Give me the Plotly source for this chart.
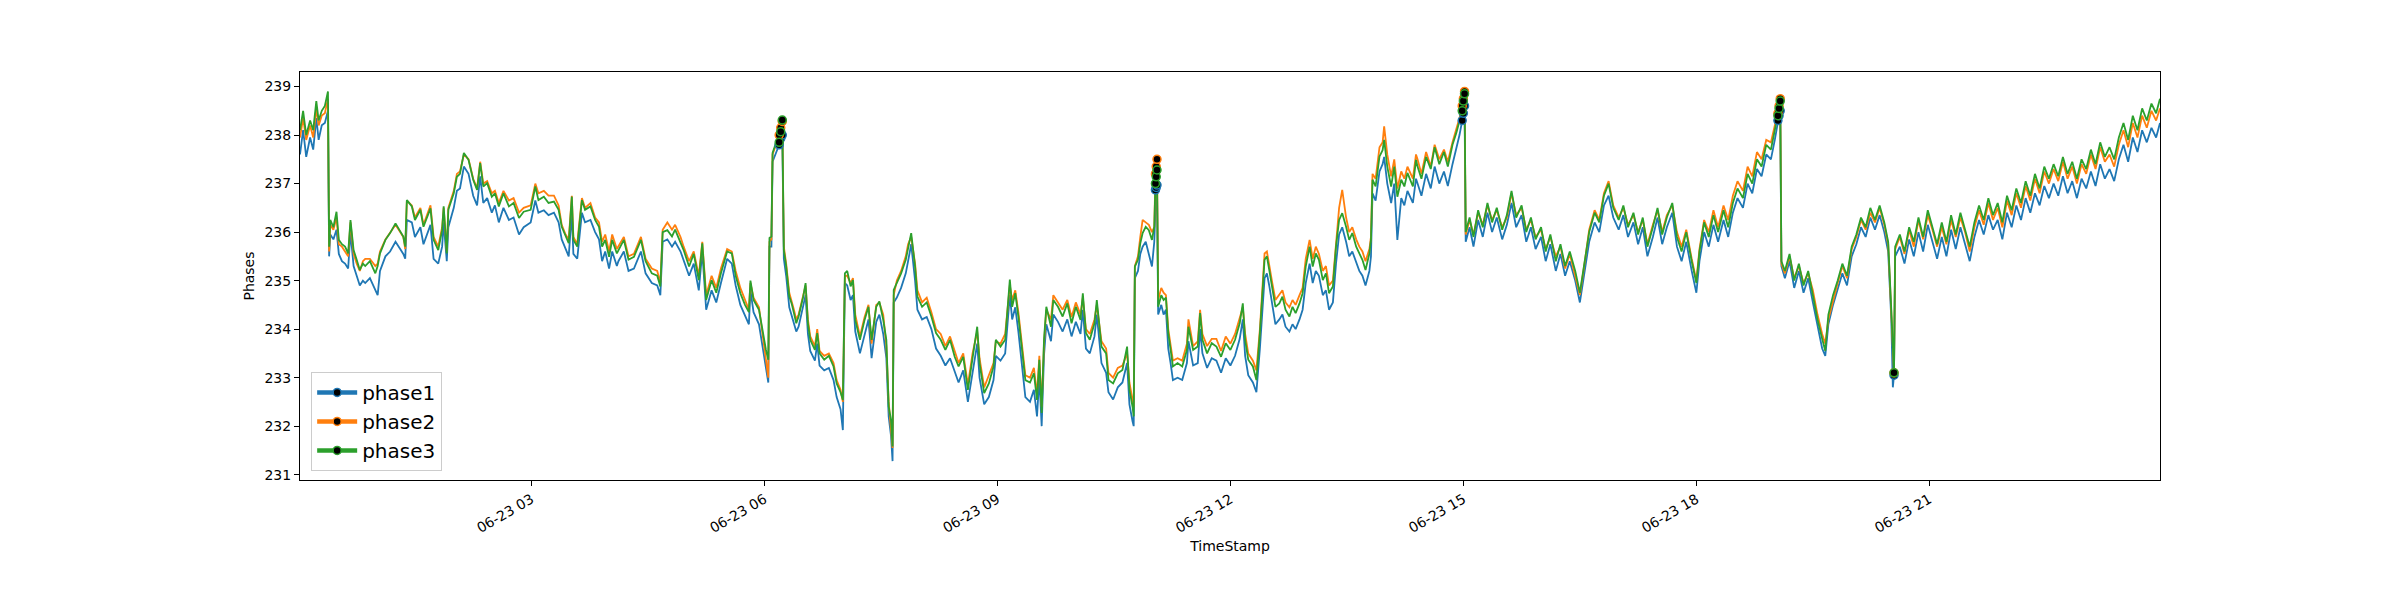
import numpy as np
import pandas as pd
import plotly.graph_objects as go

DAY = "2019-06-23"

# Sample times, hours after midnight of 06-23
HOURS = [
    0.02, 0.06, 0.10, 0.15, 0.19, 0.23, 0.26, 0.30, 0.34, 0.38,
    0.395, 0.41, 0.45, 0.49, 0.52, 0.56, 0.60, 0.64, 0.67, 0.71,
    0.75, 0.79, 0.83, 0.86, 0.92, 0.99, 1.02, 1.05, 1.12, 1.18,
    1.25, 1.31, 1.35, 1.375, 1.396, 1.46, 1.50, 1.57, 1.61, 1.70,
    1.74, 1.80, 1.85, 1.87, 1.91, 1.93, 2.00, 2.04, 2.08, 2.13,
    2.19, 2.25, 2.30, 2.34, 2.38, 2.43, 2.49, 2.53, 2.58, 2.64,
    2.71, 2.77, 2.84, 2.90, 2.99, 3.05, 3.09, 3.16, 3.22, 3.29,
    3.35, 3.39, 3.44, 3.48, 3.52, 3.54, 3.59, 3.61, 3.65, 3.69,
    3.76, 3.82, 3.87, 3.91, 3.95, 4.00, 4.04, 4.10, 4.12, 4.19,
    4.25, 4.32, 4.41, 4.47, 4.55, 4.62, 4.66, 4.69, 4.75, 4.81,
    4.85, 4.92, 4.96, 5.03, 5.09, 5.155, 5.20, 5.25, 5.32, 5.38,
    5.44, 5.52, 5.58, 5.63, 5.69, 5.75, 5.80, 5.82, 5.86, 5.93,
    5.99, 6.02, 6.05, 6.065, 6.09, 6.105, 6.13, 6.16, 6.19, 6.21, 6.23,
    6.25, 6.28, 6.32, 6.35, 6.38, 6.41, 6.44, 6.47, 6.50, 6.53,
    6.56, 6.59, 6.65, 6.68, 6.71, 6.77, 6.83, 6.89, 6.93, 6.98, 7.01,
    7.036, 7.066, 7.11, 7.14, 7.17, 7.23, 7.29, 7.34, 7.38, 7.44,
    7.48, 7.53, 7.57, 7.60, 7.63, 7.65, 7.665, 7.705, 7.76, 7.82,
    7.85, 7.89, 7.94, 7.97, 8.03, 8.09, 8.15, 8.21, 8.27, 8.33,
    8.39, 8.45, 8.50, 8.56, 8.62, 8.68, 8.74, 8.77, 8.83, 8.89,
    8.95, 8.98, 9.04, 9.10, 9.16, 9.19, 9.23, 9.27, 9.33, 9.36,
    9.42, 9.47, 9.51, 9.54, 9.57, 9.60, 9.63, 9.69, 9.72, 9.78,
    9.84, 9.90, 9.955, 10.01, 10.07, 10.10, 10.14, 10.19, 10.25, 10.28,
    10.34, 10.40, 10.43, 10.49, 10.55, 10.61, 10.67, 10.70, 10.74, 10.755,
    10.77, 10.81, 10.84, 10.87, 10.91, 10.95, 10.99, 11.02, 11.035, 11.045, 11.055,
    11.07, 11.11, 11.14, 11.17, 11.20, 11.23, 11.26, 11.32, 11.38, 11.44,
    11.46, 11.52, 11.58, 11.61, 11.64, 11.70, 11.76, 11.82, 11.88, 11.94,
    12.00, 12.06, 12.12, 12.16, 12.19, 12.23, 12.29, 12.335, 12.38, 12.44,
    12.47, 12.50, 12.54, 12.58, 12.63, 12.67, 12.71, 12.76, 12.80, 12.84,
    12.89, 12.93, 12.97, 13.02, 13.06, 13.10, 13.14, 13.19, 13.23, 13.27,
    13.32, 13.36, 13.40, 13.44, 13.49, 13.53, 13.57, 13.62, 13.66, 13.70,
    13.74, 13.79, 13.81, 13.83, 13.87, 13.92, 13.96, 13.98, 14.02, 14.07,
    14.11, 14.15, 14.20, 14.24, 14.28, 14.35, 14.39, 14.41, 14.46, 14.52,
    14.58, 14.63, 14.69, 14.75, 14.80, 14.86, 14.91, 14.95, 14.985, 15.00, 15.015,
    15.03, 15.08, 15.13, 15.19, 15.25, 15.31, 15.37, 15.43, 15.50, 15.56,
    15.62, 15.68, 15.75, 15.81, 15.87, 15.93, 16.00, 16.06, 16.12, 16.19,
    16.25, 16.31, 16.37, 16.44, 16.50, 16.56, 16.62, 16.69, 16.75, 16.81,
    16.87, 16.93, 17.00, 17.06, 17.12, 17.19, 17.25, 17.31, 17.37, 17.44,
    17.50, 17.56, 17.62, 17.69, 17.75, 17.81, 17.87, 17.94, 18.00, 18.04,
    18.10, 18.16, 18.22, 18.28, 18.35, 18.41, 18.47, 18.53, 18.60, 18.66,
    18.72, 18.78, 18.84, 18.90, 18.96, 19.01, 19.05, 19.065, 19.08,
    19.095, 19.14, 19.20, 19.26, 19.32, 19.38, 19.44, 19.50, 19.56, 19.62,
    19.66, 19.70, 19.76, 19.82, 19.88, 19.94, 20.00, 20.06, 20.12, 20.18,
    20.24, 20.30, 20.36, 20.42, 20.47, 20.51, 20.53, 20.545, 20.56, 20.62,
    20.68, 20.74, 20.80, 20.86, 20.92, 20.98, 21.04, 21.10, 21.16, 21.22,
    21.28, 21.34, 21.40, 21.46, 21.52, 21.58, 21.64, 21.70, 21.76, 21.82,
    21.88, 21.94, 22.00, 22.06, 22.12, 22.18, 22.24, 22.30, 22.36, 22.42,
    22.48, 22.54, 22.60, 22.66, 22.72, 22.78, 22.84, 22.90, 22.96, 23.02,
    23.08, 23.14, 23.20, 23.26, 23.32, 23.38, 23.44, 23.50, 23.56, 23.62,
    23.68, 23.74, 23.80, 23.86, 23.92, 23.97,
]

PHASE1 = [
    237.60, 238.10, 237.55, 237.95, 237.70, 238.35, 237.90, 238.20, 238.25, 238.50,
    235.50, 235.95, 235.85, 236.05, 235.55, 235.40, 235.35, 235.25, 236.00, 235.30,
    235.10, 234.90, 235.00, 234.95, 235.05, 234.80, 234.70, 235.20, 235.50, 235.60,
    235.80, 235.65, 235.55, 235.45, 236.25, 236.20, 235.90, 236.10, 235.75, 236.15,
    235.45, 235.35, 235.70, 236.20, 235.40, 236.10, 236.50, 236.85, 236.90, 237.35,
    237.20, 236.75, 236.55, 237.15, 236.60, 236.70, 236.40, 236.55, 236.20, 236.50,
    236.25, 236.30, 235.95, 236.10, 236.20, 236.65, 236.40, 236.45, 236.35, 236.40,
    236.20, 235.85, 235.65, 235.50, 236.40, 235.55, 235.45, 235.75, 236.40, 236.20,
    236.25, 236.00, 235.85, 235.40, 235.60, 235.25, 235.60, 235.30, 235.40, 235.60,
    235.20, 235.25, 235.60, 235.15, 234.95, 234.90, 234.70, 235.80, 235.85, 235.70,
    235.80, 235.60, 235.40, 235.10, 235.35, 234.80, 235.60, 234.40, 234.80, 234.55,
    234.95, 235.45, 235.35, 234.90, 234.50, 234.30, 234.10, 234.80, 234.35, 234.10,
    233.45, 233.20, 232.90, 235.70, 235.70, 237.45, 237.55, 237.70, 237.80, 237.93, 238.00,
    235.45, 235.10, 234.45, 234.30, 234.15, 233.95, 234.05, 234.25, 234.45, 234.70,
    233.90, 233.55, 233.35, 233.70, 233.25, 233.15, 233.20, 232.95, 232.60, 232.35, 231.92,
    234.95, 234.90, 234.60, 234.70, 233.95, 233.50, 233.90, 234.20, 233.40, 234.15,
    234.30, 233.90, 233.40, 232.20, 231.80, 231.28, 234.55, 234.65, 234.85, 235.15,
    235.40, 235.75, 235.00, 234.40, 234.20, 234.25, 234.00, 233.60, 233.45, 233.25,
    233.40, 233.10, 232.90, 233.15, 232.50, 233.10, 233.70, 233.00, 232.45, 232.60,
    232.95, 233.45, 233.35, 233.50, 234.70, 234.20, 234.45, 233.95, 233.05, 232.60,
    232.50, 232.75, 232.20, 233.00, 232.00, 233.45, 234.10, 233.75, 234.30, 234.15,
    233.95, 234.20, 233.85, 234.15, 233.90, 234.40, 233.60, 233.50, 233.85, 234.30,
    233.30, 233.10, 232.70, 232.55, 232.80, 232.90, 233.30, 232.45, 232.10, 232.00,
    235.05, 235.20, 235.55, 235.70, 235.80, 235.55, 235.29, 235.80, 236.87, 236.92, 236.97,
    234.30, 234.50, 234.30, 234.40, 233.60, 233.30, 232.95, 233.00, 232.95, 233.30,
    233.75, 233.25, 233.30, 234.00, 233.50, 233.20, 233.40, 233.35, 233.10, 233.40,
    233.25, 233.45, 233.80, 234.20, 233.45, 233.05, 232.90, 232.70, 233.60, 235.05,
    235.15, 234.90, 234.45, 234.10, 234.20, 234.30, 234.05, 233.95, 234.10, 234.00,
    234.20, 234.40, 234.95, 235.35, 234.95, 235.20, 235.10, 234.70, 234.80, 234.40,
    234.55, 235.35, 235.95, 236.10, 235.80, 235.50, 235.60, 235.35, 235.20, 235.10,
    234.90, 235.20, 235.50, 236.80, 236.65, 237.25, 237.40, 237.55, 237.00, 236.60,
    237.00, 235.84, 236.70, 236.55, 236.85, 236.60, 237.10, 237.00, 236.75, 237.20,
    236.90, 237.35, 237.00, 237.25, 236.95, 237.40, 237.70, 238.00, 238.30, 238.45, 238.60,
    235.80, 236.10, 235.70, 236.25, 235.90, 236.40, 236.00, 236.30, 235.85, 236.15,
    236.60, 236.10, 236.35, 235.80, 236.10, 235.65, 235.90, 235.40, 235.75, 235.20,
    235.55, 235.10, 235.40, 235.00, 234.55, 235.20, 235.80, 236.20, 236.00, 236.55,
    236.75, 236.30, 236.05, 236.35, 235.90, 236.20, 235.75, 236.10, 235.50, 235.90,
    236.30, 235.75, 236.10, 236.40, 235.70, 235.40, 235.80, 235.20, 234.75, 235.40,
    236.00, 235.70, 236.15, 235.80, 236.25, 235.90, 236.40, 236.70, 236.50, 237.00,
    236.80, 237.30, 237.15, 237.60, 237.50, 237.90, 238.30, 238.40, 238.50,
    235.30, 235.05, 235.40, 234.85, 235.20, 234.75, 235.05, 234.55, 234.05, 233.60,
    233.45, 234.10, 234.50, 234.80, 235.15, 234.90, 235.50, 235.75, 236.10, 235.90,
    236.30, 236.05, 236.35, 236.00, 235.60, 234.20, 232.80, 233.05, 235.50, 235.70,
    235.35, 235.85, 235.50, 236.00, 235.60, 236.15, 235.80, 235.45, 235.90, 235.50,
    236.05, 235.65, 236.10, 235.75, 235.40, 235.90, 236.25, 235.95, 236.35, 236.05,
    236.25, 235.85, 236.40, 236.10, 236.55, 236.25, 236.70, 236.40, 236.80, 236.55,
    236.95, 236.70, 237.00, 236.75, 237.15, 236.80, 237.05, 236.70, 237.10, 236.90,
    237.25, 236.95, 237.40, 237.10, 237.30, 237.05, 237.50, 237.80, 237.45, 237.95,
    237.65, 238.10, 237.85, 238.15, 237.95, 238.25,
]

PHASE2 = [
    237.95, 238.35, 237.90, 238.20, 237.95, 238.55, 238.20, 238.40, 238.45, 238.75,
    235.60, 236.15, 236.05, 236.30, 235.75, 235.70, 235.60, 235.50, 236.20, 235.55,
    235.35, 235.20, 235.40, 235.45, 235.45, 235.30, 235.35, 235.60, 235.85, 236.00,
    236.15, 236.00, 235.90, 235.65, 236.65, 236.55, 236.30, 236.50, 236.15, 236.55,
    235.90, 235.70, 236.10, 236.50, 235.60, 236.50, 236.85, 237.20, 237.25, 237.60,
    237.50, 237.10, 236.90, 237.45, 237.00, 237.05, 236.80, 236.85, 236.60, 236.85,
    236.65, 236.70, 236.40, 236.50, 236.55, 237.00, 236.80, 236.85, 236.75, 236.75,
    236.55, 236.15, 235.95, 235.85, 236.75, 235.90, 235.75, 236.10, 236.70, 236.50,
    236.60, 236.30, 236.20, 235.80, 235.95, 235.60, 235.95, 235.65, 235.70, 235.90,
    235.50, 235.55, 235.90, 235.45, 235.25, 235.20, 234.95, 236.05, 236.20, 236.05,
    236.15, 235.90, 235.70, 235.40, 235.60, 235.10, 235.80, 234.70, 235.10, 234.85,
    235.25, 235.65, 235.60, 235.20, 234.85, 234.60, 234.40, 234.95, 234.65, 234.45,
    233.70, 233.40, 233.00, 235.80, 235.85, 237.60, 237.70, 237.85, 238.00, 238.15, 238.28,
    235.70, 235.35, 234.75, 234.60, 234.40, 234.20, 234.30, 234.50, 234.70, 234.90,
    234.20, 233.85, 233.65, 234.00, 233.55, 233.45, 233.50, 233.30, 232.95, 232.75, 232.50,
    235.10, 235.10, 234.95, 235.05, 234.30, 233.85, 234.25, 234.50, 233.70, 234.50,
    234.55, 234.30, 233.65, 232.50, 232.00, 231.55, 234.70, 235.00, 235.20, 235.50,
    235.75, 235.90, 235.35, 234.80, 234.55, 234.65, 234.35, 234.00, 233.90, 233.65,
    233.85, 233.55, 233.30, 233.50, 232.85, 233.50, 233.95, 233.40, 232.80, 233.05,
    233.30, 233.75, 233.70, 233.90, 234.90, 234.60, 234.80, 234.35, 233.45, 233.05,
    233.00, 233.20, 232.65, 233.45, 232.40, 233.70, 234.40, 234.20, 234.70, 234.55,
    234.40, 234.60, 234.25, 234.55, 234.30, 234.65, 234.00, 233.90, 234.20, 234.50,
    233.75, 233.60, 233.10, 233.00, 233.20, 233.25, 233.50, 232.90, 232.55, 232.40,
    235.30, 235.50, 235.90, 236.25, 236.20, 236.15, 236.00, 236.10, 237.20, 237.35, 237.50,
    234.60, 234.85, 234.75, 234.70, 234.00, 233.70, 233.35, 233.40, 233.35, 233.70,
    234.20, 233.65, 233.75, 234.40, 233.90, 233.65, 233.80, 233.80, 233.55, 233.85,
    233.70, 233.90, 234.25, 234.45, 233.90, 233.50, 233.35, 233.15, 234.00, 235.56,
    235.60, 235.35, 234.95, 234.60, 234.70, 234.80, 234.55, 234.45, 234.60, 234.50,
    234.70, 234.85, 235.45, 235.84, 235.45, 235.70, 235.55, 235.20, 235.30, 234.90,
    235.00, 235.80, 236.50, 236.87, 236.30, 236.00, 236.10, 235.85, 235.70, 235.60,
    235.40, 235.65, 235.90, 237.20, 237.10, 237.75, 237.85, 238.18, 237.60, 237.15,
    237.50, 236.90, 237.25, 237.10, 237.35, 237.10, 237.60, 237.50, 237.20, 237.65,
    237.35, 237.80, 237.50, 237.70, 237.45, 237.85, 238.10, 238.35, 238.60, 238.75, 238.90,
    235.95, 236.25, 235.95, 236.40, 236.15, 236.55, 236.25, 236.45, 236.10, 236.30,
    236.80, 236.35, 236.50, 236.05, 236.25, 235.90, 236.05, 235.65, 235.90, 235.50,
    235.70, 235.25, 235.55, 235.10, 234.70, 235.35, 236.05, 236.45, 236.25, 236.80,
    237.05, 236.55, 236.30, 236.50, 236.15, 236.35, 236.00, 236.25, 235.75, 236.15,
    236.45, 236.00, 236.35, 236.55, 236.00, 235.70, 236.05, 235.45, 235.00, 235.65,
    236.25, 236.00, 236.45, 236.10, 236.55, 236.25, 236.75, 237.05, 236.85, 237.35,
    237.15, 237.65, 237.50, 237.90, 237.85, 238.20, 238.45, 238.60, 238.75,
    235.35, 235.15, 235.50, 235.05, 235.30, 234.95, 235.15, 234.80, 234.30, 233.90,
    233.70, 234.20, 234.60, 234.95, 235.30, 235.05, 235.65, 235.90, 236.25, 236.05,
    236.40, 236.20, 236.50, 236.15, 235.75, 234.35, 233.50, 233.10, 235.65, 235.90,
    235.55, 236.05, 235.70, 236.25, 235.85, 236.35, 236.05, 235.70, 236.10, 235.75,
    236.25, 235.90, 236.30, 236.00, 235.60, 236.10, 236.45, 236.15, 236.60, 236.25,
    236.50, 236.10, 236.65, 236.35, 236.80, 236.50, 236.95, 236.65, 237.10, 236.80,
    237.25, 237.00, 237.30, 237.05, 237.45, 237.10, 237.35, 237.00, 237.40, 237.20,
    237.60, 237.30, 237.75, 237.45, 237.60, 237.35, 237.80, 238.10, 237.75, 238.25,
    237.95, 238.40, 238.15, 238.50, 238.30, 238.55,
]

PHASE3 = [
    238.10, 238.50, 238.00, 238.30, 238.10, 238.70, 238.30, 238.50, 238.60, 238.90,
    235.70, 236.25, 236.10, 236.42, 235.84, 235.75, 235.70, 235.56, 236.25, 235.63,
    235.43, 235.22, 235.35, 235.30, 235.40, 235.15, 235.30, 235.56, 235.84, 235.98,
    236.18, 236.00, 235.91, 235.70, 236.66, 236.53, 236.25, 236.46, 236.11, 236.49,
    235.84, 235.63, 236.04, 236.53, 235.56, 236.46, 236.80, 237.14, 237.20, 237.63,
    237.49, 237.08, 236.87, 237.42, 236.94, 237.01, 236.73, 236.80, 236.53, 236.80,
    236.53, 236.60, 236.29, 236.42, 236.46, 236.94, 236.66, 236.73, 236.60, 236.63,
    236.46, 236.11, 235.91, 235.77, 236.73, 235.84, 235.70, 236.04, 236.66, 236.46,
    236.53, 236.25, 236.11, 235.70, 235.84, 235.49, 235.84, 235.56, 235.63, 235.84,
    235.43, 235.49, 235.84, 235.40, 235.15, 235.10, 234.88, 236.00, 236.04, 235.91,
    236.05, 235.80, 235.63, 235.29, 235.55, 235.01, 235.77, 234.60, 235.01, 234.75,
    235.15, 235.60, 235.56, 235.10, 234.74, 234.50, 234.35, 235.00, 234.60, 234.40,
    233.78, 233.57, 233.37, 235.88, 235.91, 237.63, 237.75, 237.90, 237.85, 238.07, 238.31,
    235.63, 235.30, 234.67, 234.53, 234.33, 234.12, 234.26, 234.46, 234.67, 234.95,
    234.12, 233.78, 233.57, 233.92, 233.50, 233.37, 233.45, 233.23, 232.88, 232.70, 232.54,
    235.15, 235.20, 234.88, 235.01, 234.19, 233.78, 234.19, 234.46, 233.78, 234.46,
    234.57, 234.19, 233.78, 232.40, 232.13, 231.58, 234.81, 234.95, 235.15, 235.43,
    235.70, 235.98, 235.29, 234.67, 234.46, 234.55, 234.26, 233.92, 233.78, 233.57,
    233.78, 233.43, 233.23, 233.43, 232.75, 233.43, 234.05, 233.30, 232.68, 232.88,
    233.23, 233.78, 233.64, 233.78, 235.02, 234.46, 234.74, 234.26, 233.37, 232.95,
    232.90, 233.09, 232.54, 233.37, 232.27, 233.78, 234.46, 234.05, 234.60, 234.46,
    234.26, 234.53, 234.12, 234.46, 234.19, 234.74, 233.92, 233.78, 234.12, 234.60,
    233.64, 233.50, 232.95, 232.88, 233.09, 233.16, 233.64, 232.75, 232.40, 232.20,
    235.29, 235.43, 235.77, 235.98, 236.11, 236.04, 235.84, 236.11, 237.00, 237.14, 237.28,
    234.46, 234.70, 234.60, 234.65, 233.92, 233.57, 233.23, 233.30, 233.23, 233.57,
    234.05, 233.57, 233.64, 234.33, 233.78, 233.50, 233.71, 233.64, 233.43, 233.71,
    233.57, 233.78, 234.12, 234.53, 233.78, 233.37, 233.23, 232.95, 233.92, 235.43,
    235.50, 235.22, 234.81, 234.46, 234.53, 234.67, 234.40, 234.26, 234.46, 234.33,
    234.53, 234.74, 235.29, 235.70, 235.29, 235.56, 235.43, 235.01, 235.15, 234.74,
    234.88, 235.70, 236.25, 236.39, 236.11, 235.84, 235.98, 235.70, 235.56, 235.43,
    235.22, 235.56, 235.84, 237.08, 236.94, 237.56, 237.69, 237.90, 237.35, 236.94,
    237.35, 236.73, 237.08, 236.94, 237.22, 236.94, 237.49, 237.35, 237.10, 237.55,
    237.30, 237.75, 237.40, 237.65, 237.35, 237.80, 238.05, 238.30, 238.50, 238.70, 238.85,
    236.00, 236.30, 235.90, 236.45, 236.10, 236.60, 236.20, 236.50, 236.05, 236.35,
    236.85, 236.30, 236.55, 236.00, 236.30, 235.85, 236.10, 235.60, 235.95, 235.40,
    235.75, 235.30, 235.60, 235.20, 234.75, 235.40, 236.00, 236.40, 236.20, 236.75,
    237.00, 236.50, 236.25, 236.55, 236.10, 236.40, 235.95, 236.30, 235.70, 236.10,
    236.50, 235.95, 236.30, 236.60, 235.90, 235.60, 236.00, 235.40, 234.95, 235.60,
    236.20, 235.90, 236.35, 236.00, 236.45, 236.10, 236.60, 236.90, 236.70, 237.20,
    237.00, 237.50, 237.35, 237.80, 237.70, 238.10, 238.40, 238.55, 238.70,
    235.40, 235.20, 235.55, 235.00, 235.35, 234.90, 235.20, 234.70, 234.20, 233.80,
    233.55, 234.30, 234.70, 235.00, 235.35, 235.10, 235.70, 235.95, 236.30, 236.10,
    236.50, 236.25, 236.55, 236.20, 235.80, 234.40, 233.60, 233.10, 235.70, 235.95,
    235.60, 236.10, 235.80, 236.30, 235.90, 236.45, 236.10, 235.75, 236.20, 235.80,
    236.35, 235.95, 236.40, 236.05, 235.70, 236.20, 236.55, 236.25, 236.70, 236.35,
    236.60, 236.20, 236.75, 236.45, 236.90, 236.60, 237.05, 236.75, 237.20, 236.90,
    237.35, 237.10, 237.40, 237.15, 237.55, 237.20, 237.45, 237.10, 237.50, 237.30,
    237.70, 237.40, 237.85, 237.55, 237.75, 237.50, 237.95, 238.25, 237.90, 238.40,
    238.10, 238.55, 238.30, 238.65, 238.45, 238.75,
]

# Samples flagged with a marker (hours after midnight)
FLAG_HOURS = [6.19, 6.21, 6.23, 11.035, 11.045, 11.055,
              14.985, 15.00, 15.015, 19.05, 19.065, 19.08, 20.545]

SERIES_NAMES = ["phase1", "phase2", "phase3"]
COLORS = ["#1f77b4", "#ff7f0e", "#2ca02c"]

assert len(HOURS) == len(PHASE1) == len(PHASE2) == len(PHASE3)

times = pd.Timestamp(DAY) + pd.to_timedelta(np.array(HOURS), unit="h")
hours_arr = np.array(HOURS)
flag_idx = [int(np.argmin(np.abs(hours_arr - fh))) for fh in FLAG_HOURS]

fig = go.Figure()
series = [PHASE1, PHASE2, PHASE3]

for name, vals, col in zip(SERIES_NAMES, series, COLORS):
    fig.add_trace(go.Scatter(
        x=times, y=vals, mode="lines", name=name,
        line=dict(color=col, width=1.8), showlegend=False,
        legendgroup=name, hoverinfo="skip"))

for name, vals, col in zip(SERIES_NAMES, series, COLORS):
    fig.add_trace(go.Scatter(
        x=times[flag_idx], y=[vals[i] for i in flag_idx], mode="markers",
        marker=dict(color="black", size=8, line=dict(color=col, width=1.5)),
        showlegend=False, legendgroup=name))

# legend handles (thick lines with marker)
for name, col in zip(SERIES_NAMES, COLORS):
    fig.add_trace(go.Scatter(
        x=[None], y=[None], mode="lines+markers", name=name,
        line=dict(color=col, width=4.5),
        marker=dict(color="black", size=8, line=dict(color=col, width=1.5)),
        legendgroup=name, showlegend=True))

font_family = "DejaVu Sans, Liberation Sans, sans-serif"

fig.update_layout(
    width=2400, height=600,
    margin=dict(l=292, r=248, t=64, b=128),
    paper_bgcolor="white", plot_bgcolor="white",
    font=dict(family=font_family, size=14, color="black"),
    showlegend=True,
    legend=dict(
        x=0.006, y=0.265, xanchor="left", yanchor="top",
        bgcolor="rgba(255,255,255,0.8)", bordercolor="#cccccc", borderwidth=1,
        font=dict(family=font_family, size=20, color="black"),
        tracegroupgap=0, itemwidth=40,
    ),
    xaxis=dict(
        type="date",
        range=[times[0], times[-1]],
        tick0=DAY + " 00:00:00", dtick=3 * 3600 * 1000,
        tickformat="%m-%d %H", tickangle=-30,
        ticks="outside", ticklen=5, tickwidth=1, tickcolor="black",
        showline=True, linecolor="black", linewidth=1, mirror=True,
        showgrid=False, zeroline=False,
        tickfont=dict(size=14),
        title=dict(text="TimeStamp", font=dict(size=14), standoff=6),
    ),
    yaxis=dict(
        range=[230.89, 239.30],
        tick0=231, dtick=1,
        ticks="outside", ticklen=5, tickwidth=1, tickcolor="black",
        showline=True, linecolor="black", linewidth=1, mirror=True,
        showgrid=False, zeroline=False,
        tickfont=dict(size=14),
        title=dict(text="Phases", font=dict(size=14), standoff=6),
    ),
)

fig.write_html("out.html")
